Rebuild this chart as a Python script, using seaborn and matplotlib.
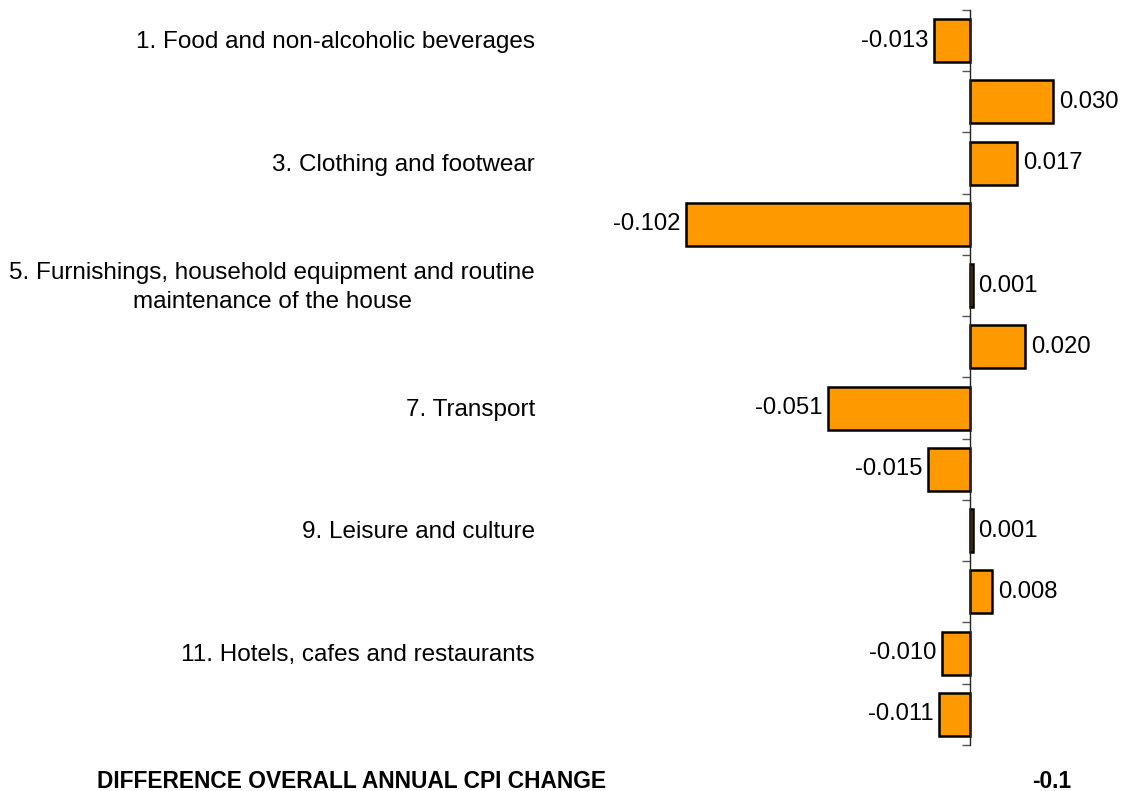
import matplotlib.pyplot as plt
import matplotlib.transforms as mtransforms
import seaborn as sns

# COICOP groups, difference in contribution to annual CPI change
codes = ["01", "02", "03", "04", "05", "06", "07", "08", "09", "10", "11", "12"]
labels = [
    "1. Food and non-alcoholic beverages",
    "",
    "3. Clothing and footwear",
    "",
    "5. Furnishings, household equipment and routine\nmaintenance of the house",
    "",
    "7. Transport",
    "",
    "9. Leisure and culture",
    "",
    "11. Hotels, cafes and restaurants",
    "",
]
values = [-0.013, 0.030, 0.017, -0.102, 0.001, 0.020, -0.051, -0.015, 0.001, 0.008, -0.010, -0.011]
total_label = "DIFFERENCE OVERALL ANNUAL CPI CHANGE"
total_value = "-0.1"

sns.set_style("white")
plt.rcParams["font.family"] = ["Liberation Sans", "DejaVu Sans"]
plt.rcParams["text.color"] = "black"

fig = plt.figure(figsize=(11.29, 7.91), dpi=100)
ax = fig.add_axes([0.5314, 0.0582, 0.4429, 0.9292])

sns.barplot(x=values, y=codes, orient="h", color="#FF9900", saturation=1,
            edgecolor="black", linewidth=1.8, width=0.7, ax=ax)

ax.set_xlim(-0.1331, 0.0468)
ax.set_ylim(11.5, -0.5)

# axis line at zero with ticks between categories
for s in ["top", "right", "bottom"]:
    ax.spines[s].set_visible(False)
ax.spines["left"].set_position(("data", 0))
ax.spines["left"].set_color("#222222")
ax.spines["left"].set_linewidth(1.0)
ax.set_yticks([i - 0.5 for i in range(len(codes) + 1)])
ax.set_yticklabels([])
ax.tick_params(axis="y", direction="out", length=6, width=1, color="#555555", left=True)
ax.set_xticks([])
ax.set_xlabel("")
ax.set_ylabel("")

# value labels
for i, v in enumerate(values):
    if v >= 0:
        ax.annotate(f"{v:.3f}", (v, i), xytext=(4, 0), textcoords="offset points",
                    ha="left", va="center", fontsize=17.2)
    else:
        ax.annotate(f"{v:.3f}", (v, i), xytext=(-4, 0), textcoords="offset points",
                    ha="right", va="center", fontsize=17.2)

# category names
trans = mtransforms.blended_transform_factory(fig.transFigure, ax.transData)
for i, lab in enumerate(labels):
    if lab:
        ax.text(0.4739, i + 0.03, lab, transform=trans, ha="right", va="center",
                multialignment="center", fontsize=17.5, linespacing=1.45)

fig.text(0.086, 0.012, total_label, ha="left", va="center", fontsize=16.4, fontweight="bold")
fig.text(0.949, 0.012, total_value, ha="right", va="center", fontsize=16.4, fontweight="bold")

fig.savefig("out.png", dpi=100)
